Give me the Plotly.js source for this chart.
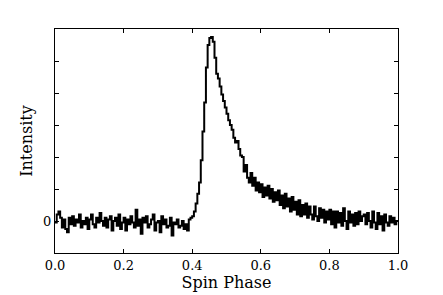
<!DOCTYPE html>
<html>
<head>
<meta charset="utf-8">
<script src="https://cdn.plot.ly/plotly-3.0.1.min.js"></script>
<style>html,body{margin:0;padding:0;background:#fff;}#chart{width:443px;height:295px;}</style>
</head>
<body>
<div id="chart"></div>
<script>
// Pulse profile: intensity per phase bin (200 bins across one spin)
const nBins = 200;
const intensity = [
  -0.05, 0.2, 0.3, 0.1, -0.2, 0.05, -0.25, -0.35, 0.1, -0.1,
  0.15, -0.15, 0.05, -0.05, 0.2, -0.2, 0.0, -0.1, 0.1, -0.25,
  0.05, 0.2, -0.1, -0.2, 0.1, -0.05, 0.25, 0.0, -0.15, 0.1,
  -0.2, 0.05, 0.15, -0.3, 0.0, 0.1, -0.15, 0.2, -0.25, -0.05,
  0.1, -0.3, 0.05, -0.1, 0.15, -0.05, -0.2, 0.35, -0.15, 0.05,
  -0.4, 0.1, -0.05, 0.15, -0.2, -0.1, 0.05, 0.2, -0.3, -0.05,
  0.0, -0.35, 0.15, -0.1, 0.05, -0.2, -0.15, 0.1, -0.45, -0.05,
  -0.1, 0.05, -0.2, -0.15, 0.0, -0.25, -0.1, -0.3, 0.05, 0.1,
  0.15, 0.3, 0.55, 0.85, 1.2, 1.9, 2.8, 3.7, 4.8, 5.5,
  5.72, 5.75, 5.6, 5.1, 4.6, 4.45, 4.2, 3.95, 3.75, 3.55,
  3.35, 3.15, 3.0, 2.85, 2.6, 2.45, 2.5, 2.25, 2.05, 2.0,
  1.55, 1.75, 1.35, 1.2, 1.5, 1.1, 1.35, 0.95, 1.2, 0.9,
  1.15, 0.75, 1.05, 0.8, 1.1, 0.7, 1.0, 0.6, 0.9, 0.65,
  0.95, 0.5, 0.8, 0.4, 0.85, 0.45, 0.7, 0.3, 0.75, 0.35,
  0.6, 0.2, 0.65, 0.15, 0.5, 0.2, 0.55, 0.1, 0.45, 0.2,
  0.05, 0.45, 0.15, 0.0, 0.4, 0.1, 0.35, -0.05, 0.3, 0.05,
  0.35, -0.1, 0.3, -0.2, 0.3, -0.05, 0.25, -0.15, 0.4, 0.0,
  -0.25, 0.3, -0.05, 0.2, -0.15, 0.25, -0.1, 0.3, 0.0, 0.15,
  0.2, -0.1, 0.25, 0.0, -0.2, 0.3, -0.05, -0.25, 0.25, -0.1,
  0.15, -0.3, 0.2, -0.05, -0.15, 0.15, -0.05, 0.1, -0.1, 0.0
];
const xTickVals = [0, 0.2, 0.4, 0.6, 0.8, 1.0];
const xTickText = ["0.0", "0.2", "0.4", "0.6", "0.8", "1.0"];
const yTickVals = [0, 1, 2, 3, 4, 5];
const yTickText = ["0", "", "", "", "", ""];

// step edges: left edge of each bin, plus the closing edge at phase 1
const phase = [];
const yStep = [];
for (let i = 0; i < intensity.length; i++) { phase.push(i / nBins); yStep.push(intensity[i]); }
phase.push(1.0); yStep.push(intensity[intensity.length - 1]);

const font = {family: "DejaVu Serif, serif", color: "#000"};
Plotly.newPlot("chart", [{
  x: phase, y: yStep, type: "scatter", mode: "lines",
  line: {shape: "hv", color: "#000", width: 2},
  hoverinfo: "skip"
}], {
  width: 443, height: 295,
  margin: {l: 55, r: 45, t: 29, b: 42},
  paper_bgcolor: "#fff", plot_bgcolor: "#fff",
  showlegend: false,
  xaxis: {
    range: [0, 1], tickvals: xTickVals, ticktext: xTickText,
    ticks: "inside", ticklen: 4, tickcolor: "#000", tickwidth: 1,
    showline: true, linecolor: "#000", linewidth: 1, mirror: "ticks",
    showgrid: false, zeroline: false,
    tickfont: Object.assign({size: 13}, font),
    title: {text: "Spin Phase", font: Object.assign({size: 16}, font), standoff: 4}
  },
  yaxis: {
    range: [-1, 6], tickvals: yTickVals, ticktext: yTickText,
    ticks: "inside", ticklen: 4, tickcolor: "#000", tickwidth: 1,
    showline: true, linecolor: "#000", linewidth: 1, mirror: "ticks",
    showgrid: false, zeroline: false,
    tickfont: Object.assign({size: 13}, font),
    title: {text: "Intensity", font: Object.assign({size: 16}, font), standoff: 6}
  }
}, {displayModeBar: false, staticPlot: true});
</script>
</body>
</html>
